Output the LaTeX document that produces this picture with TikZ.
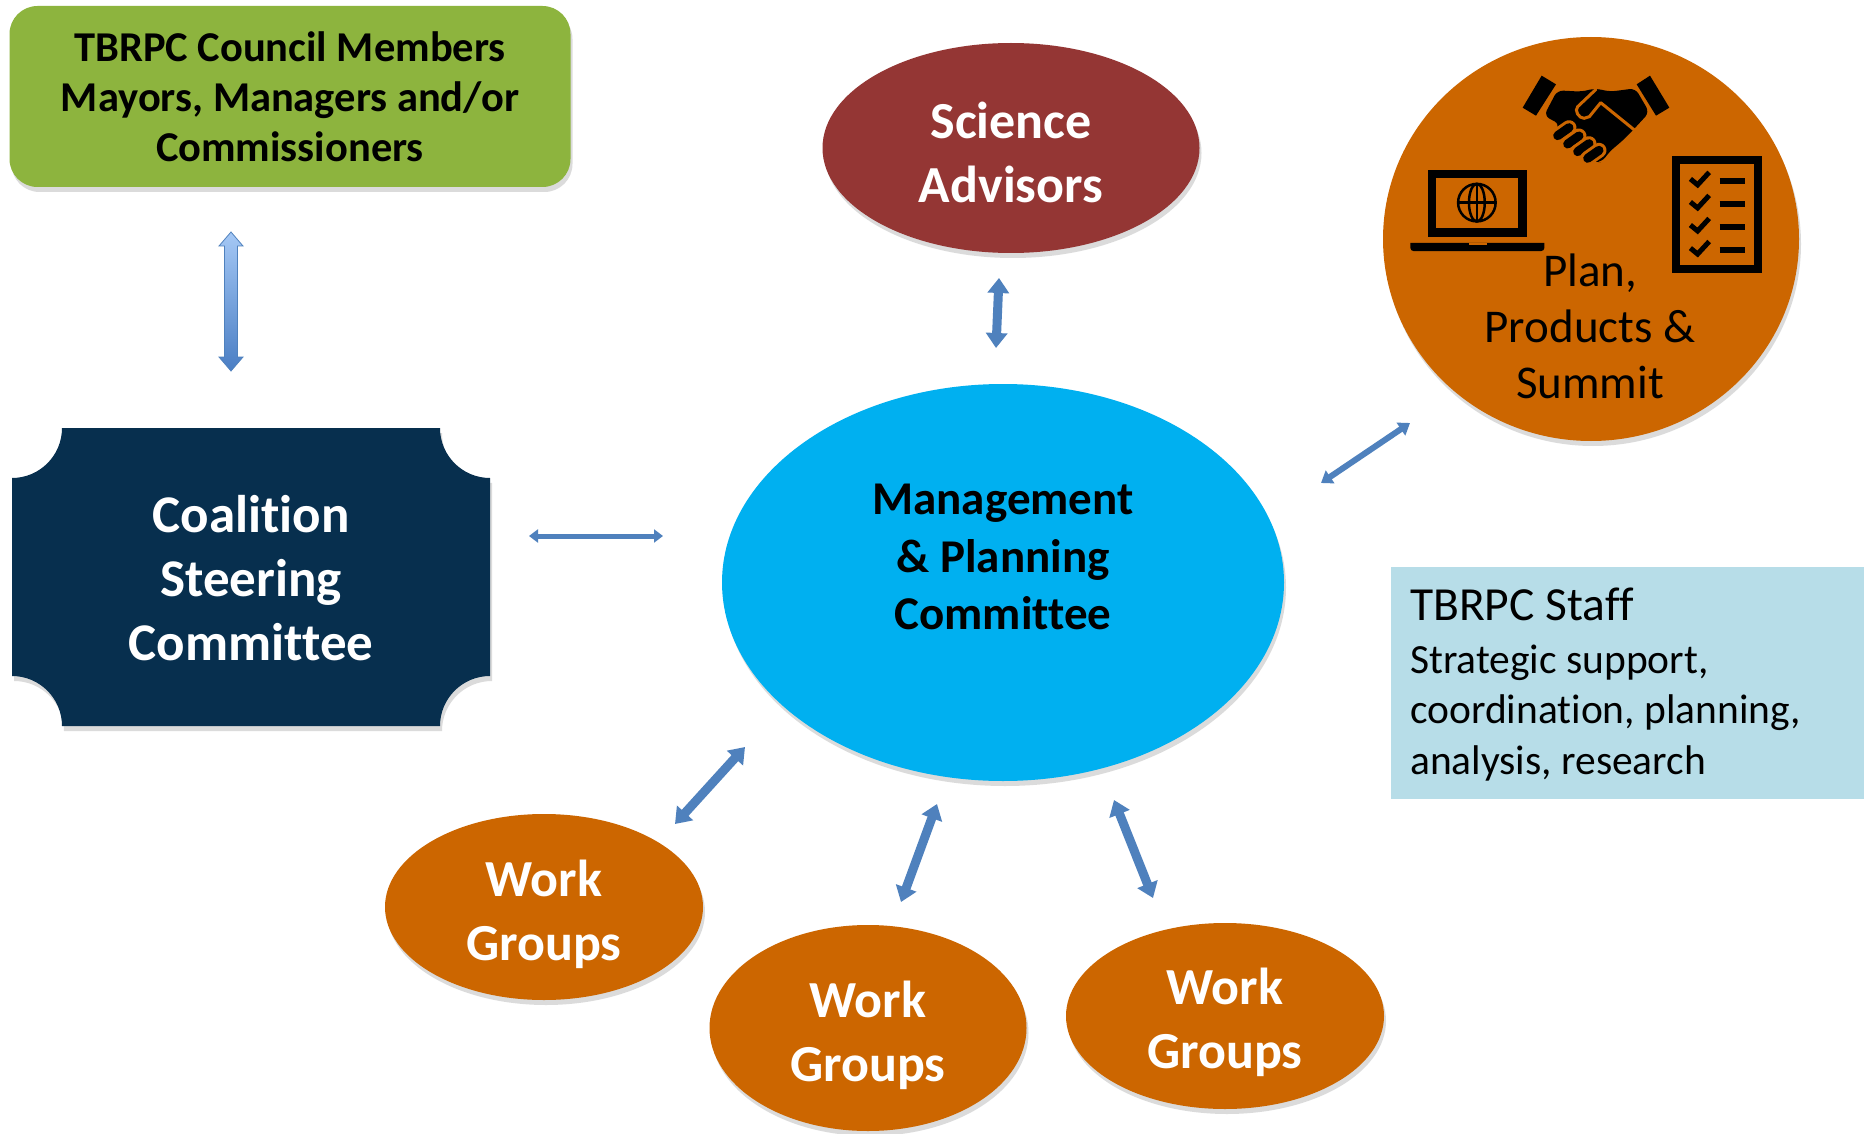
\documentclass[tikz,border=0pt]{standalone}
\usepackage{fontspec}
\setmainfont{Carlito}[Ligatures=NoCommon]
\usetikzlibrary{shapes.geometric,arrows.meta,shadows}
\definecolor{cgreen}{HTML}{8DB43E}
\definecolor{cnavy}{HTML}{072F4E}
\definecolor{cred}{HTML}{943634}
\definecolor{corange}{HTML}{CC6600}
\definecolor{ccyan}{HTML}{00B0F0}
\definecolor{cstaff}{HTML}{B7DDE8}
\definecolor{carrow}{HTML}{4F81BD}
\definecolor{cgradtop}{HTML}{A5C8F5}
\definecolor{cgradbot}{HTML}{4A7EC4}
\newcommand{\fsz}[2]{\fontsize{#1}{#2}\selectfont}
\begin{document}
\begin{tikzpicture}[x=1pt,y=-1pt,
  shad/.style={drop shadow={opacity=0.28, shadow xshift=2pt, shadow yshift=-5pt}},
  ell/.style={ellipse, inner sep=0pt, shad},
  wtxt/.style={text=white, align=center, font=\bfseries\fsz{52}{64}},
  thick arrow/.style={draw=carrow, line width=9pt, {Triangle[width=21pt,length=15pt]}-{Triangle[width=21pt,length=15pt]}},
  mid arrow/.style={draw=carrow, line width=6pt, {Triangle[width=15pt,length=11pt]}-{Triangle[width=15pt,length=11pt]}},
  thin arrow/.style={draw=carrow, line width=5pt, {Triangle[width=13pt,length=9pt]}-{Triangle[width=13pt,length=9pt]}},
  icon/.style={fill=black, draw=none},
  stafftxt/.style={anchor=base west, inner sep=0pt, font=\fsz{41.5}{50}}
]
\useasboundingbox (0,0) rectangle (1864,1134);
\fill[white] (0,0) rectangle (1864,1134);

% council box
\node[rectangle, rounded corners=28pt, fill=cgreen, minimum width=561pt, minimum height=181pt,
      inner sep=0pt, align=center, font=\bfseries\fsz{42.5}{50}, shad] (council) at (290,96.5)
  {TBRPC Council Members\\Mayors, Managers and/or\\Commissioners};

% vertical gradient block arrow
\path[top color=cgradtop, bottom color=cgradbot, draw=carrow, line width=0.8pt]
  (231,232) -- (243,246) -- (237.5,246) -- (237.5,357) -- (243,357) -- (231,371)
  -- (219,357) -- (224.5,357) -- (224.5,246) -- (219,246) -- cycle;

% coalition steering committee
\path[fill=cnavy, shad] (62,428) -- (440,428) arc[start angle=180,end angle=90,radius=50]
  -- (490,676) arc[start angle=270,end angle=180,radius=50]
  -- (62,726) arc[start angle=0,end angle=-90,radius=50]
  -- (12,478) arc[start angle=90,end angle=0,radius=50] -- cycle;
\node[text=white, align=center, font=\bfseries\fsz{53}{64}] (coal) at (251,578)
  {Coalition\\Steering\\Committee};

% science advisors
\node[ell, fill=cred, minimum width=377pt, minimum height=210pt] (sci) at (1011,148) {};
\node[wtxt] (scitxt) at (1011,152) {Science\\Advisors};

% management
\node[ell, fill=ccyan, minimum width=562pt, minimum height=397pt] (mgmt) at (1003,582.5) {};
\node[align=center, font=\bfseries\fsz{47}{57.5}] (mgmttxt) at (1003,557)
  {Management\\\& Planning\\Committee};

% plan circle
\node[ell, fill=corange, minimum width=416pt, minimum height=404pt] (plan) at (1591,239) {};
\node[align=center, font=\fsz{47}{56}] (plantxt) at (1590,326) {Plan,\\Products \&\\Summit};

% handshake icon
\begin{scope}[shift={(1510,65)}, scale=1/3]
  \fill[icon] (95,32) -- (138,58) -- (78,152) -- (38,128) -- cycle;
  \fill[icon] (420,32) -- (478,128) -- (438,152) -- (380,58) -- cycle;
  \fill[icon, rounded corners=6pt] (142,76) -- (215,80) -- (255,70) -- (300,80) -- (376,70) -- (418,142)
    -- (372,192) -- (350,215) -- (325,238) -- (300,258) -- (275,292) -- (255,290) -- (235,278)
    -- (205,266) -- (180,250) -- (150,232) -- (128,210) -- (150,178) -- (102,152) -- cycle;
  \draw[corange, line width=3pt, line join=round, line cap=round]
    (258,73) -- (203,125) to[out=225,in=180] (222,160) -- (238,155) -- (272,113) -- (372,194);
  \foreach \cx/\cy in {160/200, 190/225, 220/248, 250/268} {
    \draw[corange, line width=15pt, line cap=round] (\cx-17,\cy+12) -- (\cx+17,\cy-12);
    \draw[black, line width=9pt, line cap=round] (\cx-17,\cy+12) -- (\cx+17,\cy-12);
  }
\end{scope}

% laptop icon
\begin{scope}[shift={(1350,0)}, scale=0.3295]
  \draw[black, line width=8.5pt] (248.5,527.5) rectangle (523.5,705);
  \fill[black] (183,737) -- (590,737) -- (590,752) to[out=-90,in=0] (580,762) -- (193,762) to[out=180,in=-90] (183,752) -- cycle;
  \fill[corange] (360,737) rectangle (415,745);
  \draw[black, line width=2.5pt] (385,615) circle[radius=57];
  \draw[black, line width=2.5pt] (385,615) ellipse[x radius=24, y radius=57];
  \draw[black, line width=2.5pt] (328,615) -- (442,615);
  \draw[black, line width=2.5pt] (385,558) -- (385,672);
\end{scope}

% checklist icon
\begin{scope}[shift={(1350,0)}, scale=0.3295]
  \draw[black, line width=8pt] (988,486) rectangle (1237,815);
  \foreach \yy in {545,615,685,755} {
    \draw[black, line width=5pt, line cap=butt, line join=miter] (1033,\yy-2) -- (1055,\yy+16) -- (1090,\yy-22);
    \draw[black, line width=6pt] (1122,\yy+3) -- (1200,\yy+3);
  }
\end{scope}

% staff box
\node[rectangle, fill=cstaff, minimum width=473pt, minimum height=232pt, inner sep=0pt] (staff) at (1627.5,683) {};
\node[stafftxt, font=\fsz{47.5}{58}] (staff0) at (1410,620.5) {TBRPC Staff};
\node[stafftxt] (staff1) at (1410,673) {Strategic support,};
\node[stafftxt] (staff2) at (1410,723.5) {coordination, planning,};
\node[stafftxt] (staff3) at (1410,774) {analysis, research};

% work groups
\node[ell, fill=corange, minimum width=318pt, minimum height=186pt] (wg1) at (544,907) {};
\node[wtxt] (wg1txt) at (544,914) {Work\\Groups};
\node[ell, fill=corange, minimum width=317pt, minimum height=206pt] (wg2) at (868,1028) {};
\node[wtxt] (wg2txt) at (868,1035) {Work\\Groups};
\node[ell, fill=corange, minimum width=318pt, minimum height=186pt] (wg3) at (1225,1016) {};
\node[wtxt] (wg3txt) at (1225,1022) {Work\\Groups};

% connector end points
\coordinate (hA) at (529,536);  \coordinate (hB) at (663,536);
\coordinate (sA) at (999,278);  \coordinate (sB) at (996,348);
\coordinate (pA) at (1321,483); \coordinate (pB) at (1410,423);
\coordinate (w1A) at (675,824); \coordinate (w1B) at (745,747);
\coordinate (w2A) at (901,902); \coordinate (w2B) at (937,804);
\coordinate (w3A) at (1153,898); \coordinate (w3B) at (1114,800);

\draw[thin arrow] (hA) -- (hB);
\draw[thick arrow] (sA) -- (sB);
\draw[mid arrow] (pA) -- (pB);
\draw[thick arrow] (w1A) -- (w1B);
\draw[thick arrow] (w2A) -- (w2B);
\draw[thick arrow] (w3A) -- (w3B);
\end{tikzpicture}
\end{document}
